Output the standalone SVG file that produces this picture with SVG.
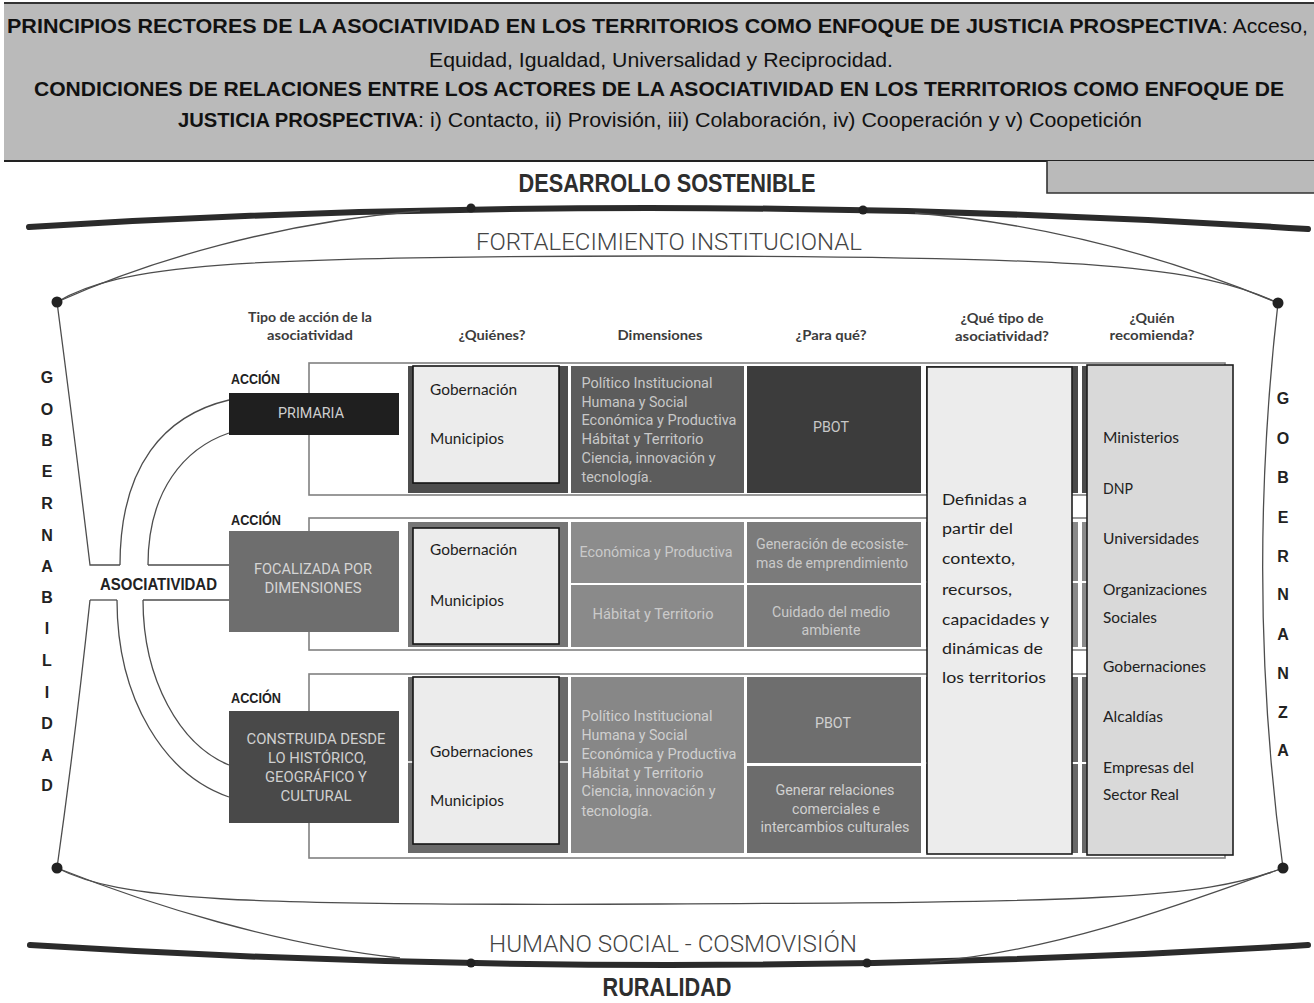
<svg xmlns="http://www.w3.org/2000/svg" width="1314" height="1003" viewBox="0 0 1314 1003">
<style>
.h{font-family:"Liberation Sans",Arial,sans-serif;font-size:20px;fill:#111}
.hb{font-weight:bold}
.thin{fill:none;stroke:#4d4d4d;stroke-width:1.3}
.thick{fill:none;stroke:#2b2b2b;stroke-width:6;stroke-linecap:round}
.dot{fill:#222}
.frame{fill:#fff;stroke:#808080;stroke-width:1.6}
.qbox{fill:#ececec;stroke:#151515;stroke-width:1.6}
.colh{font-family:Lato,"Open Sans",sans-serif;font-weight:bold;font-size:13px;fill:#3c3c3c;text-anchor:middle;dominant-baseline:central}
.acc{font-family:"Liberation Sans",Arial,sans-serif;font-weight:bold;font-size:15px;fill:#222;dominant-baseline:central}
.box{font-family:Roboto,"Liberation Sans",sans-serif;font-size:15px;text-anchor:middle;dominant-baseline:central}
.dim{font-family:Roboto,"Liberation Sans",sans-serif;font-size:14.5px;dominant-baseline:central}
.qt{font-family:Lato,"Open Sans",sans-serif;font-size:16px;fill:#1e1e1e;dominant-baseline:central}
.qr{font-family:Lato,"Open Sans",sans-serif;font-size:15px;fill:#222;dominant-baseline:central}
.let{font-family:"Liberation Sans",Arial,sans-serif;font-weight:bold;font-size:16px;fill:#222;text-anchor:middle;dominant-baseline:central}
.big{font-family:"Liberation Sans",Arial,sans-serif;font-weight:bold;font-size:26px;fill:#2e2e2e;text-anchor:middle}
.lite{font-family:Roboto,"Liberation Sans",sans-serif;font-weight:300;font-size:24px;fill:#444;text-anchor:middle}
</style>

<g id="encabezado">
<rect x="4" y="3" width="1310" height="158" fill="#bababa"/>
<line x1="4" y1="3" x2="1314" y2="3" stroke="#333" stroke-width="2"/>
<line x1="4" y1="161" x2="1314" y2="161" stroke="#222" stroke-width="2"/>
<rect x="1047" y="161" width="267" height="32" fill="#bababa"/>
<path d="M1047,161 V193 H1314" fill="none" stroke="#333" stroke-width="1.6"/>
<text class="h hb" x="7" y="33" textLength="1215" lengthAdjust="spacingAndGlyphs">PRINCIPIOS RECTORES DE LA ASOCIATIVIDAD EN LOS TERRITORIOS COMO ENFOQUE DE JUSTICIA PROSPECTIVA</text>
<text class="h" x="1222" y="33" textLength="86" lengthAdjust="spacingAndGlyphs">: Acceso,</text>
<text class="h" x="429" y="67" textLength="464" lengthAdjust="spacingAndGlyphs">Equidad, Igualdad, Universalidad y Reciprocidad.</text>
<text class="h hb" x="34" y="96" textLength="1250" lengthAdjust="spacingAndGlyphs">CONDICIONES DE RELACIONES ENTRE LOS ACTORES DE LA ASOCIATIVIDAD EN LOS TERRITORIOS COMO ENFOQUE DE</text>
<text class="h hb" x="178" y="127" textLength="240" lengthAdjust="spacingAndGlyphs">JUSTICIA PROSPECTIVA</text>
<text class="h" x="418" y="127" textLength="724" lengthAdjust="spacingAndGlyphs">: i) Contacto, ii) Provisión, iii) Colaboración, iv) Cooperación y v) Coopetición</text>
</g>

<g id="titulos">
<text class="big" x="667" y="192" textLength="297" lengthAdjust="spacingAndGlyphs">DESARROLLO SOSTENIBLE</text>
<text class="lite" x="669" y="250" textLength="386" lengthAdjust="spacingAndGlyphs">FORTALECIMIENTO INSTITUCIONAL</text>
<text class="lite" x="673" y="952" textLength="368" lengthAdjust="spacingAndGlyphs">HUMANO SOCIAL - COSMOVISIÓN</text>
<text class="big" x="667" y="996" font-size="24" textLength="129" lengthAdjust="spacingAndGlyphs">RURALIDAD</text>
</g>

<g id="conectores">
<path class="thick" d="M29,227 Q660,188 1308,229"/>
<path class="thick" d="M30,945 Q669,985 1308,945"/>
<path class="thin" d="M57,302 C150,260 280,222 420,211"/>
<path class="thin" d="M915,213 C1060,225 1180,262 1278,303"/>
<path class="thin" d="M57,302 C120,265 230,256 660,256 C1090,256 1200,266 1278,303"/>
<path class="thin" d="M57,868 C150,905 280,945 400,958"/>
<path class="thin" d="M930,962 C1060,950 1180,905 1283,868"/>
<path class="thin" d="M57,868 C120,900 230,906 660,904 C1090,902 1200,900 1283,868"/>
<path class="thin" d="M57,302 Q75,440 90,565 H120"/>
<path class="thin" d="M90,600 Q75,740 57,868"/>
<path class="thin" d="M90,600 H117"/>
<path class="thin" d="M1278,303 Q1245,590 1283,868"/>
<path class="thin" d="M120,565 C120,465 165,415 229,400"/>
<path class="thin" d="M148,565 C148,490 185,448 229,433"/>
<path class="thin" d="M148,565 H229"/>
<path class="thin" d="M143,600 H229"/>
<path class="thin" d="M117,600 C117,700 165,775 229,797"/>
<path class="thin" d="M143,600 C143,680 180,745 229,765"/>
<circle class="dot" cx="471" cy="208" r="4.5"/>
<circle class="dot" cx="863" cy="210" r="4.5"/>
<circle class="dot" cx="471" cy="963" r="4.5"/>
<circle class="dot" cx="867" cy="963" r="4.5"/>
<circle class="dot" cx="57" cy="302" r="5.5"/>
<circle class="dot" cx="1278" cy="303" r="5.5"/>
<circle class="dot" cx="57" cy="868" r="5.5"/>
<circle class="dot" cx="1283" cy="868" r="5.5"/>
</g>

<g id="gobernabilidad">
<text class="let" x="47" y="377">G</text><text class="let" x="47" y="409">O</text><text class="let" x="47" y="440">B</text><text class="let" x="47" y="471">E</text><text class="let" x="47" y="503">R</text><text class="let" x="47" y="535">N</text><text class="let" x="47" y="566">A</text><text class="let" x="47" y="597">B</text><text class="let" x="47" y="628">I</text><text class="let" x="47" y="660">L</text><text class="let" x="47" y="692">I</text><text class="let" x="47" y="723">D</text><text class="let" x="47" y="755">A</text><text class="let" x="47" y="785">D</text>
</g>
<g id="gobernanza">
<text class="let" x="1283" y="398">G</text><text class="let" x="1283" y="438">O</text><text class="let" x="1283" y="477">B</text><text class="let" x="1283" y="517">E</text><text class="let" x="1283" y="556">R</text><text class="let" x="1283" y="594">N</text><text class="let" x="1283" y="634">A</text><text class="let" x="1283" y="673">N</text><text class="let" x="1283" y="712">Z</text><text class="let" x="1283" y="750">A</text>
</g>

<g id="asociatividad">
<text x="100" y="584" font-family="Liberation Sans, Arial, sans-serif" font-weight="bold" font-size="16" fill="#222" dominant-baseline="central" textLength="117" lengthAdjust="spacingAndGlyphs">ASOCIATIVIDAD</text>
</g>

<g id="cabeceras">
<text class="colh" x="310" y="317" textLength="124" lengthAdjust="spacingAndGlyphs">Tipo de acción de la</text>
<text class="colh" x="310" y="335" textLength="86" lengthAdjust="spacingAndGlyphs">asociatividad</text>
<text class="colh" x="492" y="335" textLength="67" lengthAdjust="spacingAndGlyphs">¿Quiénes?</text>
<text class="colh" x="660" y="335" textLength="85" lengthAdjust="spacingAndGlyphs">Dimensiones</text>
<text class="colh" x="831" y="335" textLength="71" lengthAdjust="spacingAndGlyphs">¿Para qué?</text>
<text class="colh" x="1002" y="318" textLength="83" lengthAdjust="spacingAndGlyphs">¿Qué tipo de</text>
<text class="colh" x="1002" y="336" textLength="94" lengthAdjust="spacingAndGlyphs">asociatividad?</text>
<text class="colh" x="1152" y="318" textLength="45" lengthAdjust="spacingAndGlyphs">¿Quién</text>
<text class="colh" x="1152" y="335" textLength="85" lengthAdjust="spacingAndGlyphs">recomienda?</text>
</g>

<g id="fila1">
<rect class="frame" x="309" y="363" width="916" height="132"/>
<rect x="408" y="366" width="160" height="127" fill="#4d4d4d"/>
<rect class="qbox" x="413" y="366" width="146" height="117"/>
<rect x="571" y="366" width="173" height="127" fill="#5c5c5c"/>
<rect x="747" y="366" width="174" height="127" fill="#3c3c3c"/>
<rect x="926" y="366" width="152" height="127" fill="#4a4a4a"/>
<rect x="1082" y="366" width="140" height="127" fill="#4a4a4a"/>
<text class="qt" x="430" y="388" textLength="87" lengthAdjust="spacingAndGlyphs">Gobernación</text>
<text class="qt" x="430" y="437" textLength="74" lengthAdjust="spacingAndGlyphs">Municipios</text>
<g fill="#c8c8c8">
<text class="dim" x="581.5" y="383" textLength="131" lengthAdjust="spacingAndGlyphs">Político Institucional</text>
<text class="dim" x="581.5" y="402" textLength="106" lengthAdjust="spacingAndGlyphs">Humana y Social</text>
<text class="dim" x="581.5" y="420" textLength="155" lengthAdjust="spacingAndGlyphs">Económica y  Productiva</text>
<text class="dim" x="581.5" y="439" textLength="122" lengthAdjust="spacingAndGlyphs">Hábitat y Territorio</text>
<text class="dim" x="581.5" y="458" textLength="134" lengthAdjust="spacingAndGlyphs">Ciencia, innovación y</text>
<text class="dim" x="581.5" y="477" textLength="71" lengthAdjust="spacingAndGlyphs">tecnología.</text>
<text class="box" x="831" y="427" textLength="36" lengthAdjust="spacingAndGlyphs">PBOT</text>
</g>
</g>

<g id="fila2">
<rect class="frame" x="309" y="518" width="916" height="132"/>
<rect x="408" y="522" width="160" height="125" fill="#767676"/>
<rect class="qbox" x="413" y="528" width="146" height="116"/>
<rect x="571" y="522" width="173" height="61" fill="#8c8c8c"/>
<rect x="571" y="585" width="173" height="62" fill="#8a8a8a"/>
<rect x="747" y="522" width="174" height="61" fill="#7b7b7b"/>
<rect x="747" y="585" width="174" height="62" fill="#7b7b7b"/>
<rect x="926" y="522" width="152" height="59" fill="#8a8a8a"/>
<rect x="926" y="583" width="152" height="64" fill="#8a8a8a"/>
<rect x="1082" y="522" width="140" height="59" fill="#8a8a8a"/>
<rect x="1082" y="583" width="140" height="64" fill="#8a8a8a"/>
<text class="qt" x="430" y="548" textLength="87" lengthAdjust="spacingAndGlyphs">Gobernación</text>
<text class="qt" x="430" y="599" textLength="74" lengthAdjust="spacingAndGlyphs">Municipios</text>
<g fill="#cacaca">
<text class="box" x="656" y="552" textLength="153" lengthAdjust="spacingAndGlyphs">Económica y Productiva</text>
<text class="box" x="653" y="614" textLength="121" lengthAdjust="spacingAndGlyphs">Hábitat y Territorio</text>
<text class="box" x="832" y="544" textLength="152" lengthAdjust="spacingAndGlyphs">Generación de ecosiste-</text>
<text class="box" x="832" y="563" textLength="152" lengthAdjust="spacingAndGlyphs">mas de emprendimiento</text>
<text class="box" x="831" y="612" textLength="118" lengthAdjust="spacingAndGlyphs">Cuidado del medio</text>
<text class="box" x="831" y="630" textLength="59" lengthAdjust="spacingAndGlyphs">ambiente</text>
</g>
</g>

<g id="fila3">
<rect class="frame" x="309" y="674" width="916" height="184"/>
<rect x="408" y="677" width="160" height="176" fill="#6a6a6a"/>
<line x1="408" y1="762" x2="568" y2="762" stroke="#e0e0e0" stroke-width="2"/>
<rect class="qbox" x="413" y="677" width="146" height="167"/>
<rect x="571" y="677" width="173" height="176" fill="#878787"/>
<rect x="747" y="677" width="174" height="86" fill="#6e6e6e"/>
<rect x="747" y="766" width="174" height="87" fill="#6c6c6c"/>
<rect x="926" y="677" width="152" height="85" fill="#686868"/>
<rect x="926" y="764" width="152" height="89" fill="#686868"/>
<rect x="1082" y="677" width="140" height="85" fill="#686868"/>
<rect x="1082" y="764" width="140" height="89" fill="#686868"/>
<text class="qt" x="430" y="750" textLength="103" lengthAdjust="spacingAndGlyphs">Gobernaciones</text>
<text class="qt" x="430" y="799" textLength="74" lengthAdjust="spacingAndGlyphs">Municipios</text>
<g fill="#d0d0d0">
<text class="dim" x="581.5" y="716" textLength="131" lengthAdjust="spacingAndGlyphs">Político Institucional</text>
<text class="dim" x="581.5" y="735" textLength="106" lengthAdjust="spacingAndGlyphs">Humana y Social</text>
<text class="dim" x="581.5" y="754" textLength="155" lengthAdjust="spacingAndGlyphs">Económica y  Productiva</text>
<text class="dim" x="581.5" y="773" textLength="122" lengthAdjust="spacingAndGlyphs">Hábitat y Territorio</text>
<text class="dim" x="581.5" y="791" textLength="134" lengthAdjust="spacingAndGlyphs">Ciencia, innovación y</text>
<text class="dim" x="581.5" y="811" textLength="71" lengthAdjust="spacingAndGlyphs">tecnología.</text>
<text class="box" x="833" y="723" textLength="36" lengthAdjust="spacingAndGlyphs">PBOT</text>
<text class="box" x="835" y="790" textLength="119" lengthAdjust="spacingAndGlyphs">Generar relaciones</text>
<text class="box" x="836" y="809" textLength="88" lengthAdjust="spacingAndGlyphs">comerciales e</text>
<text class="box" x="835" y="827" textLength="149" lengthAdjust="spacingAndGlyphs">intercambios culturales</text>
</g>
</g>

<g id="accion-primaria">
<text class="acc" x="231" y="378" textLength="49" lengthAdjust="spacingAndGlyphs">ACCIÓN</text>
<rect x="229" y="393" width="170" height="42" fill="#1f1f1f"/>
<text class="box" x="311" y="413" fill="#cfcfcf" textLength="66" lengthAdjust="spacingAndGlyphs">PRIMARIA</text>
</g>
<g id="accion-focalizada">
<text class="acc" x="231" y="519" textLength="50" lengthAdjust="spacingAndGlyphs">ACCIÓN</text>
<rect x="229" y="531" width="170" height="101" fill="#6e6e6e"/>
<text class="box" x="313" y="569" fill="#d5d5d5" textLength="118" lengthAdjust="spacingAndGlyphs">FOCALIZADA POR</text>
<text class="box" x="313" y="588" fill="#d5d5d5" textLength="97" lengthAdjust="spacingAndGlyphs">DIMENSIONES</text>
</g>
<g id="accion-construida">
<text class="acc" x="231" y="697" textLength="50" lengthAdjust="spacingAndGlyphs">ACCIÓN</text>
<rect x="229" y="711" width="170" height="112" fill="#494949"/>
<text class="box" x="316" y="739" fill="#d0d0d0" textLength="139" lengthAdjust="spacingAndGlyphs">CONSTRUIDA DESDE</text>
<text class="box" x="317" y="758" fill="#d0d0d0" textLength="98" lengthAdjust="spacingAndGlyphs">LO HISTÓRICO,</text>
<text class="box" x="316" y="777" fill="#d0d0d0" textLength="102" lengthAdjust="spacingAndGlyphs">GEOGRÁFICO Y</text>
<text class="box" x="316" y="796" fill="#d0d0d0" textLength="71" lengthAdjust="spacingAndGlyphs">CULTURAL</text>
</g>

<g id="que-tipo">
<rect x="927" y="367" width="145" height="487" fill="#ececec" stroke="#1e1e1e" stroke-width="1.6"/>
<text class="qt" x="942" y="498" textLength="85" lengthAdjust="spacingAndGlyphs">Definidas a</text>
<text class="qt" x="942" y="527" textLength="71" lengthAdjust="spacingAndGlyphs">partir del</text>
<text class="qt" x="942" y="557" textLength="73" lengthAdjust="spacingAndGlyphs">contexto,</text>
<text class="qt" x="942" y="588" textLength="70" lengthAdjust="spacingAndGlyphs">recursos,</text>
<text class="qt" x="942" y="618" textLength="107" lengthAdjust="spacingAndGlyphs">capacidades y</text>
<text class="qt" x="942" y="647" textLength="101" lengthAdjust="spacingAndGlyphs">dinámicas de</text>
<text class="qt" x="942" y="676" textLength="104" lengthAdjust="spacingAndGlyphs">los territorios</text>
</g>

<g id="quien-recomienda">
<rect x="1087" y="365" width="146" height="490" fill="#d9d9d9" stroke="#1e1e1e" stroke-width="1.6"/>
<text class="qr" x="1103" y="437" textLength="76" lengthAdjust="spacingAndGlyphs">Ministerios</text>
<text class="qr" x="1103" y="488" textLength="30" lengthAdjust="spacingAndGlyphs">DNP</text>
<text class="qr" x="1103" y="538" textLength="96" lengthAdjust="spacingAndGlyphs">Universidades</text>
<text class="qr" x="1103" y="589" textLength="104" lengthAdjust="spacingAndGlyphs">Organizaciones</text>
<text class="qr" x="1103" y="617" textLength="54" lengthAdjust="spacingAndGlyphs">Sociales</text>
<text class="qr" x="1103" y="666" textLength="103" lengthAdjust="spacingAndGlyphs">Gobernaciones</text>
<text class="qr" x="1103" y="716" textLength="60" lengthAdjust="spacingAndGlyphs">Alcaldías</text>
<text class="qr" x="1103" y="767" textLength="91" lengthAdjust="spacingAndGlyphs">Empresas del</text>
<text class="qr" x="1103" y="794" textLength="76" lengthAdjust="spacingAndGlyphs">Sector Real</text>
</g>
</svg>
